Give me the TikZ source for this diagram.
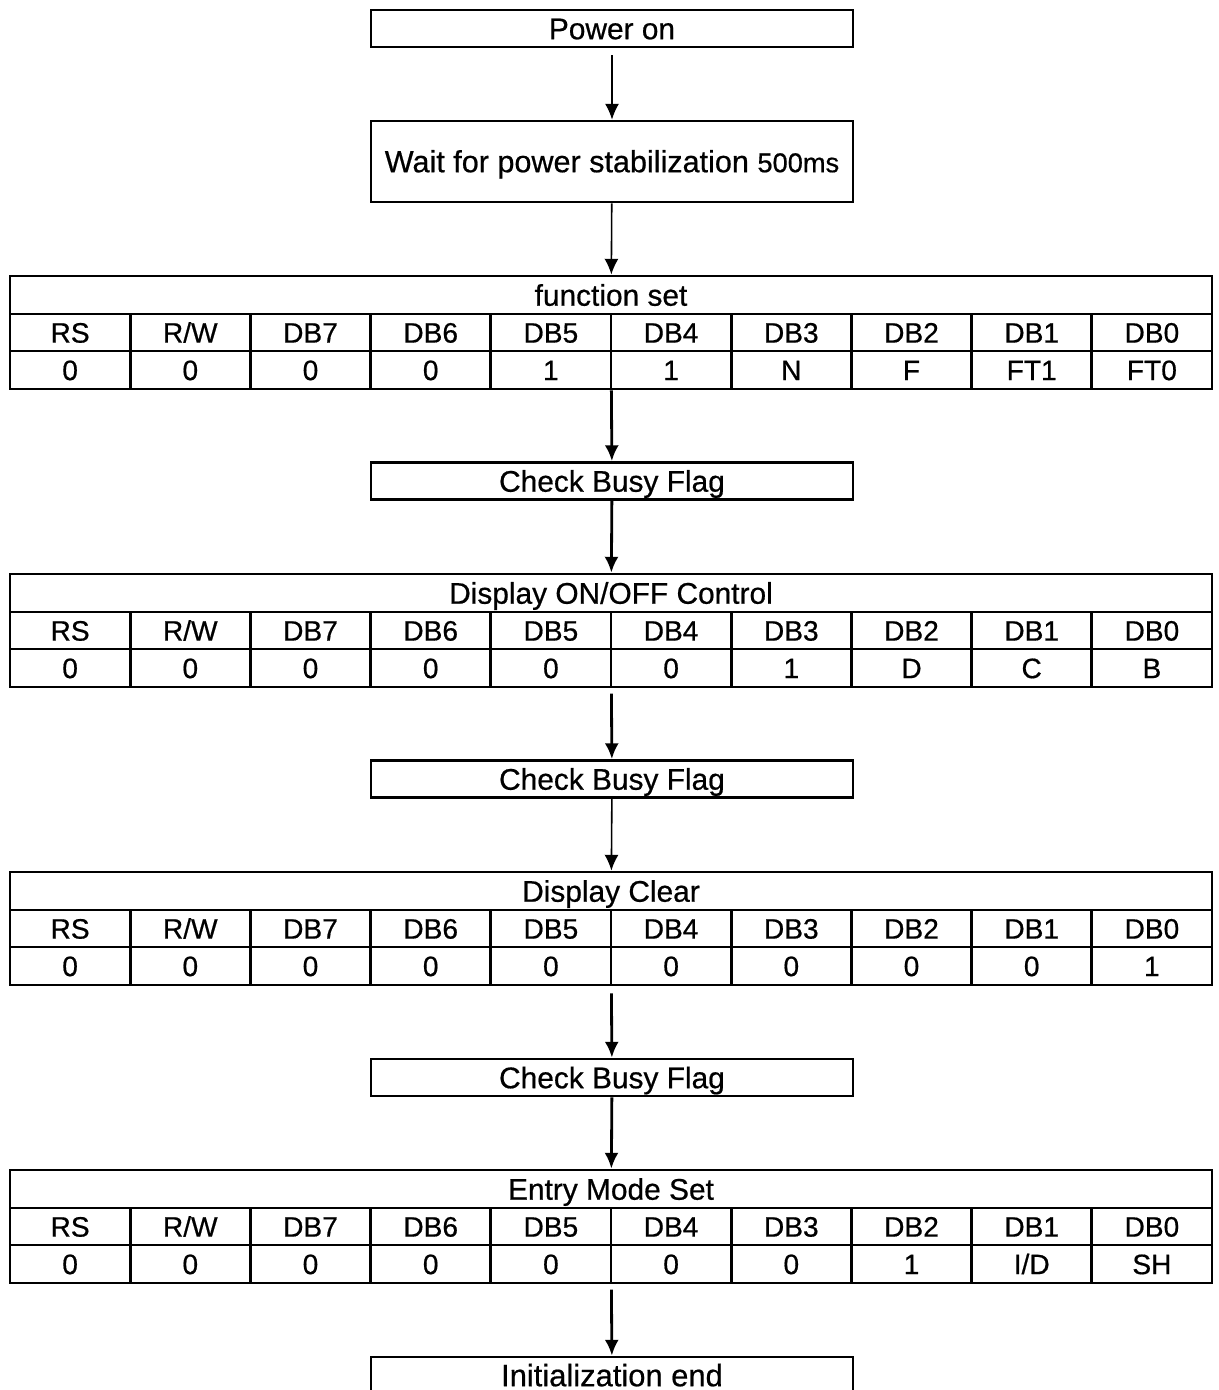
\documentclass[tikz,border=0pt]{standalone}
\usepackage{fontspec}
\setmainfont{Liberation Sans}[FakeBold=0.6]
\usetikzlibrary{arrows.meta}
\newcommand\pxu{0.02cm}
% one register table: name, top edge, title, bit values
\newcommand\regtable[4]{%
  \node[regframe] (#1) at (611,#2+56.5) {};
  \node[celltext,font=\fontsize{17}{19}\selectfont,text height=12.2pt] (#1-t) at (611,#2+19) {#3};
  \draw[regline] (10,#2+38)--(1212,#2+38) (10,#2+75)--(1212,#2+75);
  \foreach \h [count=\i] in {RS,{R/W},DB7,DB6,DB5,DB4,DB3,DB2,DB1,DB0}
    \node[celltext] (#1-h\i) at (10+120.2*\i-60.1,#2+56.5) {\h};
  \foreach \v [count=\i] in {#4}
    \node[celltext] (#1-v\i) at (10+120.2*\i-60.1,#2+94) {\v};
  \foreach \i in {1,...,9}
    \draw[regline] (10+120.2*\i,#2+38)--(10+120.2*\i,#2+113);
}
\begin{document}
\begin{tikzpicture}[x=\pxu,y=-\pxu,line join=miter,
    stepbox/.style={draw,line width=1.6pt,minimum width=482*\pxu,minimum height=37*\pxu,inner sep=0pt,
      font=\fontsize{17}{19}\selectfont,text height=12.2pt,text depth=0pt},
    regframe/.style={draw,line width=1.6pt,minimum width=1202*\pxu,minimum height=113*\pxu,inner sep=0pt},
    regline/.style={line width=1.5pt},
    celltext/.style={inner sep=0pt,font=\fontsize{16}{18}\selectfont,text height=11.5pt,text depth=0pt},
    flow/.style={-{Latex[length=9pt,width=8pt]},line width=0.9pt},
    flowthick/.style={flow,line width=1.6pt}]
  \useasboundingbox (0,0) rectangle (1219,1390);
  \clip (0,0) rectangle (1219,1390);
  \node[stepbox] (pwr) at (612,28.5) {Power on};
  \node[stepbox,minimum height=81*\pxu,font=\fontsize{17.4}{19}\selectfont] (wait) at (612,161.5)
    {Wait for power stabilization {\fontsize{15.5}{17}\selectfont 500ms}};
  \regtable{fs}{276}{function set}{0,0,0,0,1,1,N,F,FT1,FT0}
  \node[stepbox] (cbf1) at (612,481) {Check Busy Flag};
  \regtable{doc}{574}{Display ON/OFF Control}{0,0,0,0,0,0,1,D,C,B}
  \node[stepbox] (cbf2) at (612,779) {Check Busy Flag};
  \regtable{dc}{872}{Display Clear}{0,0,0,0,0,0,0,0,0,1}
  \node[stepbox] (cbf3) at (612,1077.5) {Check Busy Flag};
  \regtable{ems}{1170}{Entry Mode Set}{0,0,0,0,0,0,0,1,{I/D},SH}
  \node[stepbox,font=\fontsize{17.6}{19}\selectfont] (iend) at (612,1375.5) {Initialization end};
  \draw[flow,shorten <=4pt] (pwr) -- (wait);
  \draw[flow] (wait) -- (fs);
  \draw[flowthick] (fs) -- (cbf1);
  \draw[flowthick] (cbf1) -- (doc);
  \draw[flowthick,shorten <=3pt] (doc) -- (cbf2);
  \draw[flow] (cbf2) -- (dc);
  \draw[flowthick,shorten <=4pt] (dc) -- (cbf3);
  \draw[flowthick] (cbf3) -- (ems);
  \draw[flowthick,shorten <=3pt] (ems) -- (iend);
\end{tikzpicture}
\end{document}
